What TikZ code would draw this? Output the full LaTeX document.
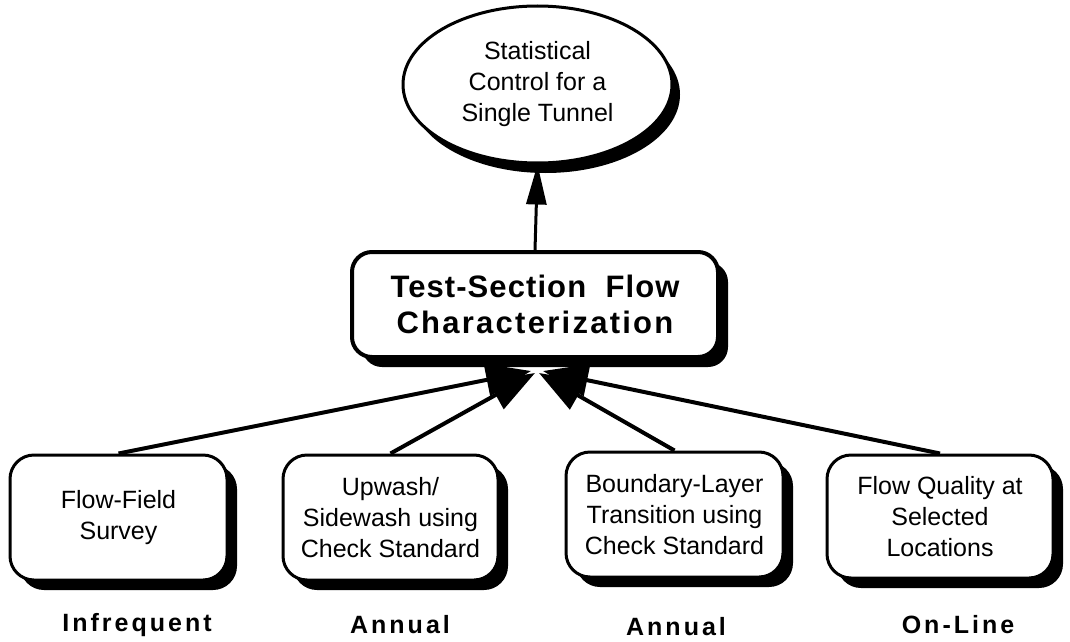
\documentclass[tikz,border=0pt]{standalone}
\usepackage{fontspec}
\setmainfont{Liberation Sans}
\newfontfamily\labelfont{Liberation Sans Bold}[LetterSpace=12]
\newfontfamily\titlefont{Liberation Sans Bold}
\usetikzlibrary{shapes.geometric,shadows,arrows.meta,calc,backgrounds}

\tikzset{
  blackshadow/.style={drop shadow={shadow xshift=#1, shadow yshift=-#1, fill=black, opacity=1}},
  taskbox/.style={draw, line width=3pt, fill=white, rounded corners=24pt,
    minimum width=217pt, minimum height=125pt, inner sep=0pt, align=center,
    font=\fontsize{25}{31}\selectfont, blackshadow=10pt},
  hubbox/.style={draw, line width=4pt, fill=white, rounded corners=20pt,
    minimum width=366pt, minimum height=105pt, inner sep=0pt, align=center,
    font=\titlefont\fontsize{31}{36}\selectfont, blackshadow=10pt},
  goalnode/.style={draw, ellipse, line width=3pt, fill=white,
    minimum width=269pt, minimum height=157pt, inner sep=0pt, align=center,
    font=\fontsize{25}{31}\selectfont,
    drop shadow={shadow xshift=8pt, shadow yshift=-10pt, fill=black, opacity=1}},
  freq/.style={font=\labelfont\fontsize{25}{30}\selectfont, inner sep=0pt},
  feed/.style={line width=4pt, -{Triangle[length=45pt,width=32pt]}},
}

\begin{document}
\begin{tikzpicture}[x=1pt,y=-1pt]
\useasboundingbox (0,0) rectangle (1070,642);

% top goal
\node[goalnode] (goal) at (537.5,84.5) {Statistical\\Control for a\\Single Tunnel};

% central characterization box
\node[hubbox] (tsfc) at (535,304.5)
  {{\addfontfeature{LetterSpace=3.5}Test-Section~~Flow}\\
   {\addfontfeature{LetterSpace=7.3}Characterization}};

% measurement activities
\node[taskbox] (survey)   at (118.5,517.5) {Flow-Field\\Survey};
\node[taskbox, minimum width=215pt] (upwash) at (390.5,517.5)
  {Upwash/\\Sidewash using\\Check Standard};
\node[taskbox] (blt)      at (674.5,514.5)
  {Boundary-Layer\\Transition using\\Check Standard};
\node[taskbox, minimum width=226pt, minimum height=123pt] (quality) at (940,516.5)
  {Flow Quality at\\Selected\\Locations};

% frequencies
\node[freq] (f1) at (137,625) {Infrequent};
\node[freq] (f2) at (400,625) {Annual};
\node[freq] (f3) at (676,627) {Annual};
\node[freq] (f4) at (958,625) {On-Line};

% arrow ends, tucked under the shadow of the central box
\coordinate (t1) at ($(tsfc.south)+(-4,12)$);
\coordinate (t2) at ($(tsfc.south)+(0,14)$);
\coordinate (t3) at ($(tsfc.south)+(4,14)$);
\coordinate (t4) at ($(tsfc.south)+(8,12)$);

\begin{scope}[on background layer]
  \draw[feed] (survey.north)  -- (t1);
  \draw[feed] (upwash.north)  -- (t2);
  \draw[feed] (blt.north)     -- (t3);
  \draw[feed] (quality.north) -- (t4);
\end{scope}

\draw[line width=3pt, -{Triangle[length=40pt,width=20pt]}] (tsfc.north) -- (goal.south);
\end{tikzpicture}
\end{document}
